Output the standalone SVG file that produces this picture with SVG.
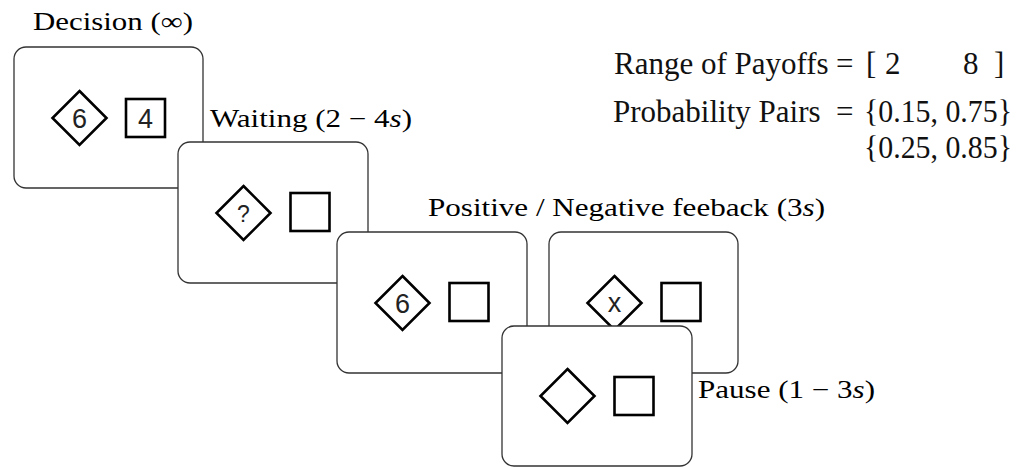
<svg xmlns="http://www.w3.org/2000/svg" width="1026" height="467" viewBox="0 0 1026 467">
<style>
.card{fill:#fff;stroke:#333;stroke-width:1.3}
.shp{fill:#fff;stroke:#000;stroke-width:2.6;stroke-linejoin:miter}
.num{font-family:"Liberation Sans",Arial,sans-serif;font-size:27px;fill:#222;text-anchor:middle}
.lbl{font-family:"Liberation Serif","Times New Roman",serif;font-size:25px;fill:#000}
.info{font-family:"Liberation Serif","Times New Roman",serif;font-size:31px;fill:#111}
.it{font-style:italic}
</style>
<rect width="1026" height="467" fill="#fff"/>
<g id="connectors"></g>
<g id="card1">
<rect class="card" x="14" y="47" width="189" height="141" rx="12"/>
<polygon class="shp" points="79.5,91 106.5,118 79.5,145 52.5,118"/>
<rect class="shp" x="126" y="99" width="39" height="38"/>
<text class="num" x="79.5" y="127.5">6</text>
<text class="num" x="145.5" y="127.5">4</text>
</g>
<g id="card2">
<rect class="card" x="178" y="142" width="190" height="141" rx="12"/>
<polygon class="shp" points="243.5,186 270.5,213 243.5,240 216.5,213"/>
<rect class="shp" x="290.5" y="193" width="39" height="38"/>
<text class="num" x="243.5" y="222" style="font-size:23px">?</text>
</g>
<g id="card3">
<rect class="card" x="337" y="232" width="190" height="141" rx="12"/>
<polygon class="shp" points="402.5,276 429.5,303 402.5,330 375.5,303"/>
<rect class="shp" x="449.5" y="283" width="39" height="38"/>
<text class="num" x="402.5" y="312.5">6</text>
</g>
<g id="card4">
<rect class="card" x="549" y="232" width="189" height="141" rx="12"/>
<polygon class="shp" points="614.5,276 641.5,303 614.5,330 587.5,303"/>
<rect class="shp" x="661.5" y="283" width="39" height="38"/>
<text class="num" x="614.5" y="312">x</text>
</g>
<g id="card5">
<rect class="card" x="502" y="326" width="190" height="140" rx="12"/>
<polygon class="shp" points="567.5,369 594.5,396 567.5,423 540.5,396"/>
<rect class="shp" x="614.5" y="377" width="39" height="38"/>
</g>
<g id="labels">
<text class="lbl" x="33" y="30" textLength="160" lengthAdjust="spacingAndGlyphs">Decision (∞)</text>
<text class="lbl" x="210" y="127" textLength="202" lengthAdjust="spacingAndGlyphs">Waiting (2 − 4<tspan class="it">s</tspan>)</text>
<text class="lbl" x="428" y="216" textLength="397" lengthAdjust="spacingAndGlyphs">Positive / Negative feeback (3<tspan class="it">s</tspan>)</text>
<text class="lbl" x="698" y="398" textLength="177" lengthAdjust="spacingAndGlyphs">Pause (1 − 3<tspan class="it">s</tspan>)</text>
</g>
<g id="info">
<text class="info" y="74"><tspan x="614">Range of Payoffs</tspan><tspan x="836">=</tspan><tspan x="866">[</tspan><tspan x="885">2</tspan><tspan x="963">8</tspan><tspan x="994">]</tspan></text>
<text class="info" y="122"><tspan x="613">Probability Pairs</tspan><tspan x="836">=</tspan><tspan x="864" textLength="148" lengthAdjust="spacingAndGlyphs">{0.15, 0.75}</tspan></text>
<text class="info" x="864" y="158" textLength="148" lengthAdjust="spacingAndGlyphs">{0.25, 0.85}</text>
</g>
</svg>
